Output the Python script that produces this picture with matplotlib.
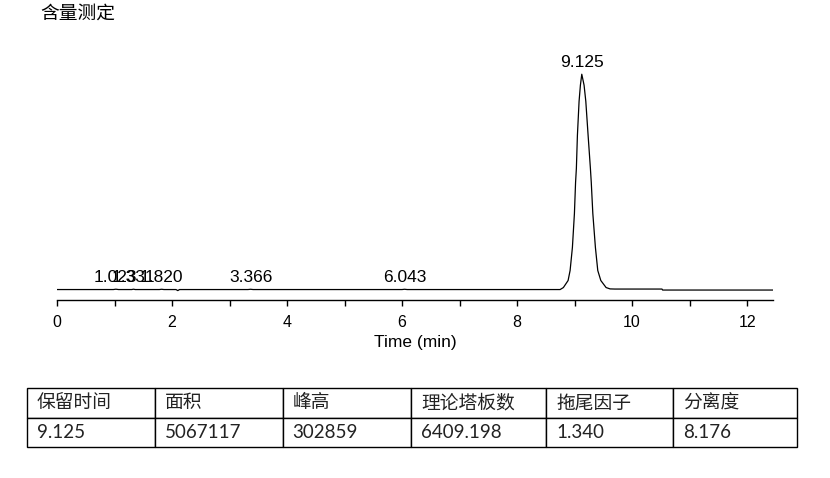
import matplotlib
matplotlib.use("Agg")
import matplotlib.pyplot as plt

# Chromatogram trace (time in min, detector signal)
trace_time = [0.0, 0.98, 1.023, 1.07, 1.30, 1.331, 1.36, 1.78, 1.820, 1.86,
              2.07, 2.10, 2.13, 3.32, 3.366, 3.41, 6.00, 6.043, 6.09,
              8.748, 8.805, 8.887, 8.922, 8.962, 8.997, 9.017, 9.031, 9.049,
              9.078, 9.101, 9.125, 9.165, 9.195, 9.235, 9.275, 9.290, 9.317,
              9.362, 9.403, 9.456, 9.548, 9.617, 9.70, 10.52, 10.53, 12.45]
trace_signal = [0, 0, 500, 0, 0, 500, 0, 0, 400, 0,
                0, -1500, 0, 0, 400, 0, 0, 400, 0,
                0, 2800, 12700, 26800, 59200, 107000, 150700, 170400, 216900,
                264800, 287400, 302859, 287400, 264800, 216900, 170400, 150700, 107000,
                59200, 26800, 12700, 2800, 900, 700, 700, -700, -700]

# labelled peaks
peak_rt = [1.023, 1.331, 1.820, 3.366, 6.043, 9.125]
peak_height = [500, 500, 400, 400, 400, 302859]

# result table
table_header = ["保留时间", "面积", "峰高", "理论塔板数", "拖尾因子", "分离度"]
table_row = ["9.125", "5067117", "302859", "6409.198", "1.340", "8.176"]
col_widths = [128, 127.5, 128.5, 135, 127, 124]

W, H = 830, 478
fig = plt.figure(figsize=(W / 100, H / 100), dpi=100)

ax = fig.add_axes([57 / W, (H - 299.5) / H, 716 / W, 259.5 / H])
ax.plot(trace_time, trace_signal, color="black", linewidth=0.9)
ax.set_xlim(0, 12.45)
ax.set_ylim(-14000, 351000)

for s in ["left", "top", "right"]:
    ax.spines[s].set_visible(False)
ax.spines["bottom"].set_linewidth(1.0)
ax.set_yticks([])
ax.set_xticks(range(0, 13, 2))
ax.set_xticks(range(1, 13, 2), minor=True)
ax.tick_params(axis="x", which="both", direction="out", length=4, width=1.0,
               color="black")
ax.tick_params(axis="x", which="major", pad=7.5, labelsize=11.5)
for lbl in ax.get_xticklabels():
    lbl.set_family("Liberation Sans")
ax.set_xlabel("Time (min)", fontsize=12.5, family="Liberation Sans", labelpad=3.5)

for rt, h in zip(peak_rt, peak_height):
    ax.annotate(f"{rt:.3f}", xy=(rt, h), xytext=(0, 5.5),
                textcoords="offset points", ha="center", va="baseline",
                fontsize=12.5, family="Liberation Sans")

fig.text(40 / W, 1 - 3 / H, "含量测定", ha="left", va="top", fontsize=13.5,
         family=["Noto Sans CJK SC", "DejaVu Sans"])

# table
tax = fig.add_axes([27 / W, (H - 446.7) / H, 770 / W, 58.4 / H])
tax.axis("off")
total = sum(col_widths)
tbl = tax.table(cellText=[table_header, table_row],
                colWidths=[w / total for w in col_widths],
                cellLoc="left", bbox=[0, 0, 1, 1])
tbl.auto_set_font_size(False)
for (r, c), cell in tbl.get_celld().items():
    cell.set_edgecolor("black")
    cell.set_linewidth(1.0)
    cell.PAD = 10 / col_widths[c]
    t = cell.get_text()
    t.set_fontsize(13.5)
    t.set_family(["Lato", "Noto Sans CJK SC"])
    t.set_color("#222222")

fig.savefig("out.png", dpi=100)
